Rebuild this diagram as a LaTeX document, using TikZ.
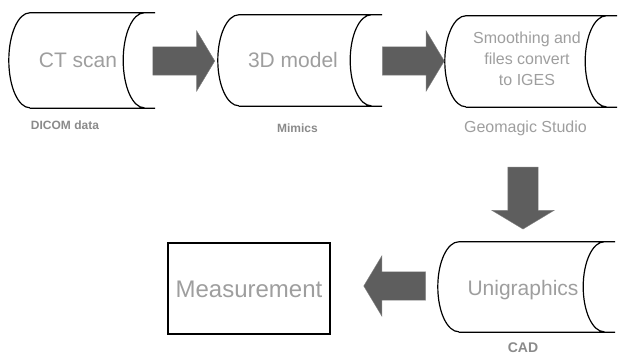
\documentclass[tikz,border=0pt]{standalone}
\usepackage{fontspec}
\setmainfont{Liberation Sans}
\usetikzlibrary{shapes.arrows,positioning}
\definecolor{inkgray}{HTML}{9E9E9E}
\definecolor{capgray}{HTML}{8A8A8A}
\definecolor{blockgray}{HTML}{5E5E5E}

\tikzset{
  drum/.style={inner sep=0pt},
  drumedge/.style={line width=1.2pt,black},
  bigtext/.style={text=inkgray,font=\fontsize{21}{25}\selectfont,inner sep=0pt,anchor=base},
  midtext/.style={text=inkgray,font=\fontsize{16}{21}\selectfont,align=center,inner sep=0pt},
  caption/.style={text=capgray,font=\bfseries\fontsize{12}{14}\selectfont,inner sep=0pt,anchor=base},
  blockarrow/.style={single arrow,fill=blockgray,draw=gray,line width=0.4pt,inner sep=0pt,
    text height=28pt,text depth=0pt,minimum height=62pt,
    single arrow head extend=16pt,single arrow tip angle=118},
}

% outline of a lying drum: node, half height
\newcommand{\drumline}[2]{%
  \draw[drumedge] ([xshift=21pt]#1.north west) -- (#1.north east)
    ([xshift=21pt]#1.south west) -- (#1.south east)
    ([xshift=21pt]#1.north west) arc[start angle=90,end angle=270,x radius=21pt,y radius=#2]
    ([xshift=-11pt]#1.north east) arc[start angle=90,end angle=270,x radius=21pt,y radius=#2];}

\begin{document}
\begin{tikzpicture}[x=1pt,y=-1pt]
\useasboundingbox (0,0) rectangle (618,355);

% drums
\node[drum,minimum width=146pt,minimum height=95pt](scand) at (82,60.5){};
\node[drum,minimum width=164pt,minimum height=91pt](modeld) at (300,60.5){};
\node[drum,minimum width=172pt,minimum height=91pt](igesd) at (531,61.5){};
\node[drum,minimum width=177pt,minimum height=90pt](cadd) at (526.5,287){};
\drumline{scand}{47.5pt}
\drumline{modeld}{45.5pt}
\drumline{igesd}{45.5pt}
\drumline{cadd}{45pt}

% texts
\node[bigtext](scan) at (78,68){CT scan};
\node[bigtext](model) at (293,68){3D model};
\node[midtext](iges) at (527,59){Smoothing and\\files convert\\to IGES};
\node[bigtext](cad) at (523,295){Unigraphics};
\node[draw,line width=1.2pt,minimum width=162pt,minimum height=91pt](meas) at (249,288.5){};
\node[bigtext,font=\fontsize{24}{28}\selectfont](meastext) at (249,297){Measurement};

% captions
\node[caption](dicom) at (65,130){DICOM data};
\node[caption](mimics) at (297.5,133){Mimics};
\node[caption,font=\fontsize{16}{19}\selectfont,text=inkgray](geo) at (525.5,133){Geomagic Studio};
\node[caption,font=\bfseries\fontsize{14}{16}\selectfont](cadcap) at (523,352.5){CAD};

% block arrows
\node[blockarrow](a1) at (179.5,61){};
\node[blockarrow](a2) at (409,61){};
\node[blockarrow,shape border rotate=270,text width=30pt,text height=0pt](a3) at (523,193.5){};
\node[blockarrow,shape border rotate=180](a4) at (399,286){};

\end{tikzpicture}
\end{document}
